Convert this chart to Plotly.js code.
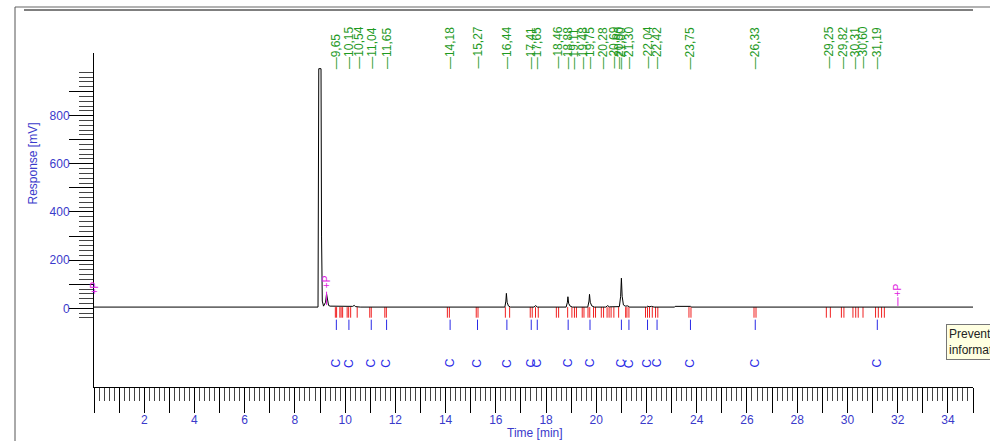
<!DOCTYPE html>
<html><head><meta charset="utf-8">
<script src="https://cdn.plot.ly/plotly-3.0.1.min.js"></script>
<style>html,body{margin:0;padding:0;overflow:hidden;background:#fff}#chart{width:990px;height:441px}</style>
</head><body><div id="chart"></div>
<script>
// ---- data ----
const timeMin = [0, 8.92, 8.95, 9.04, 9.06, 9.09, 9.14, 9.22, 9.26, 9.30, 9.34, 9.40, 10.30, 10.36, 10.42, 10.60,
  16.36, 16.40, 16.42, 16.45, 16.50, 16.58, 17.52, 17.58, 17.66, 18.80, 18.85, 18.87, 18.90, 18.96, 19.05,
  19.66, 19.71, 19.73, 19.76, 19.82, 19.92, 20.38, 20.45, 20.52, 20.92, 20.97, 21.00, 21.03, 21.08, 21.15,
  21.25, 21.33, 22.00, 22.05, 22.10, 22.20, 22.30, 23.12, 23.14, 23.75, 23.80, 35];
const responseMv = [5, 5, 995, 995, 300, 30, 9, 25, 60, 25, 12, 9, 8, 12, 7, 5,
  5, 30, 62, 25, 10, 5, 5, 11, 5, 5, 25, 48, 20, 9, 5,
  5, 30, 58, 25, 10, 5, 5, 11, 6, 7, 50, 125, 50, 14, 9,
  10, 5, 5, 9, 6, 8, 5, 5, 8, 8, 5, 5];
const peakTimes = [9.65, 10.15, 10.54, 11.04, 11.65, 14.18, 15.27, 16.44, 17.41, 17.65, 18.46, 18.88, 19.11,
  19.48, 19.75, 20.28, 20.69, 20.90, 21.00, 21.30, 22.04, 22.42, 23.75, 26.33, 29.25, 29.82, 30.31, 30.60, 31.19];
const identifiedTimes = [9.65, 10.15, 11.04, 11.65, 14.18, 15.27, 16.44, 17.41, 17.65, 18.88, 19.75, 21.00,
  21.30, 22.04, 22.42, 23.75, 26.33, 31.19];
const boundaryTimes = [9.61, 9.66, 9.79, 9.84, 9.90, 10.08, 10.14, 10.22, 10.48, 10.98, 11.04, 11.58, 11.64,
  14.07, 14.15, 15.22, 15.29, 16.38, 16.55, 17.37, 17.45, 17.58, 17.69, 18.41, 18.50, 18.86, 19.03, 19.13,
  19.21, 19.44, 19.51, 19.67, 19.74, 19.89, 19.97, 20.20, 20.29, 20.43, 20.51, 20.59, 20.70, 20.89, 21.17,
  21.22, 21.30, 21.96, 22.04, 22.12, 22.23, 22.36, 22.45, 23.69, 23.77, 26.28, 26.36, 29.16, 29.32, 29.76,
  29.86, 30.22, 30.33, 30.43, 30.62, 31.12, 31.23, 31.36, 31.47];
const eventTimes = [0.0, 9.26, 32.01];
const eventTextMv = [83, 111, 78];
const eventLineTop = [null, 69, 46];
const eventLineBottom = [null, 14, 10];
const identMark = 'C';
const eventMark = '+P';
const xTickLabels = ['', '', '2', '', '4', '', '6', '', '8', '', '10', '', '12', '', '14', '', '16', '', '18', '',
  '20', '', '22', '', '24', '', '26', '', '28', '', '30', '', '32', '', '34', ''];
const yTickLabels = ['0', '', '200', '', '400', '', '600', '', '800', ''];

// ---- geometry helpers ----
const W = 990, H = 441, M = {l: 94, r: 17, t: 53, b: 54};
const PW = W - M.l - M.r, PH = H - M.t - M.b;
const px = v => (v - M.l) / PW;
const py = v => (H - M.b - v) / PH;

const FONT = 'Arial, "Liberation Sans", sans-serif';
const BLUE = '#3a3acb', GREEN = '#1f9a1f', RED = '#f02020', MAG = '#e020e0', IDBLUE = '#2a2ae6';

function segs(times, y0, y1) {
  const x = [], y = [];
  times.forEach(t => { x.push(t, t, null); y.push(y0, y1, null); });
  return {x, y};
}
const red = segs(boundaryTimes, 5, -39);
const blue = segs(identifiedTimes, -47, -90);
const magX = [], magY = [];
eventTimes.forEach((t, i) => { if (eventLineTop[i] !== null) { magX.push(t, t, null); magY.push(eventLineTop[i], eventLineBottom[i], null); } });

const traces = [
  {x: red.x, y: red.y, mode: 'lines', line: {color: RED, width: 1}, hoverinfo: 'skip'},
  {x: blue.x, y: blue.y, mode: 'lines', line: {color: IDBLUE, width: 1}, hoverinfo: 'skip'},
  {x: timeMin, y: responseMv, mode: 'lines', line: {color: '#000', width: 1}},
  {x: magX, y: magY, mode: 'lines', line: {color: MAG, width: 1}, hoverinfo: 'skip'}
];

const xMajor = [], xMinor = [];
for (let i = 0; i <= 35; i++) xMajor.push(i);
for (let i = 0; i <= 175; i++) if (i % 5) xMinor.push(i / 5);
const yMajor = [], yMinor = [];
for (let v = 0; v <= 900; v += 100) yMajor.push(v);
for (let v = -40; v <= 980; v += 20) if (v % 100) yMinor.push(v);

const annotations = [];
peakTimes.forEach(t => annotations.push({
  x: t, xref: 'x', y: py(70), yref: 'paper', text: '\u2014' + t.toFixed(2).replace('.', ','),
  textangle: -90, showarrow: false, xanchor: 'center', yanchor: 'bottom',
  font: {family: FONT, size: 12, color: GREEN}, borderpad: 0
}));
identifiedTimes.forEach(t => annotations.push({
  x: t, xref: 'x', y: -228, yref: 'y', text: identMark, textangle: -90, showarrow: false,
  xanchor: 'center', yanchor: 'middle',
  font: {family: FONT, size: 12, color: IDBLUE}
}));
eventTimes.forEach((t, i) => annotations.push({
  x: t, xref: 'x', y: eventTextMv[i], yref: 'y', text: eventMark, textangle: -90, showarrow: false,
  xanchor: 'center', yanchor: 'middle',
  font: {family: FONT, size: 10, color: MAG}
}));
annotations.push({x: px(32), y: py(163.5), xref: 'paper', yref: 'paper', text: 'Response [mV]', textangle: -90,
  xanchor: 'center', yanchor: 'middle',
  showarrow: false, font: {family: FONT, size: 12, color: BLUE}});
annotations.push({x: px(535), y: py(433), xref: 'paper', yref: 'paper', text: 'Time [min]',
  xanchor: 'center', yanchor: 'middle',
  showarrow: false, font: {family: FONT, size: 12, color: BLUE}});
annotations.push({x: px(946), y: py(324), xref: 'paper', yref: 'paper', xanchor: 'left', yanchor: 'top',
  text: 'Prevent copying<br>information', align: 'left', showarrow: false, bgcolor: '#ffffe1',
  bordercolor: '#767676', borderwidth: 1, borderpad: 2, font: {family: FONT, size: 12, color: '#222'}});

const shapes = [
  {type: 'line', xref: 'paper', yref: 'paper', x0: px(15), x1: px(995), y0: py(7), y1: py(7), line: {color: '#999', width: 1.5}},
  {type: 'line', xref: 'paper', yref: 'paper', x0: px(24), x1: px(973), y0: py(10), y1: py(10), line: {color: '#000', width: 1}},
  {type: 'line', xref: 'paper', yref: 'paper', x0: px(15), x1: px(15), y0: py(7), y1: py(445), line: {color: '#555', width: 1}},
  {type: 'rect', xref: 'paper', yref: 'paper', x0: px(948), x1: px(995), y0: py(326), y1: py(360), fillcolor: 'rgba(0,0,0,0.15)', line: {width: 0}, layer: 'below'}
];

const layout = {
  width: W, height: H, margin: M, showlegend: false, paper_bgcolor: '#fff', plot_bgcolor: '#fff',
  hovermode: false, annotations, shapes,
  xaxis: {range: [0, 35], showgrid: false, zeroline: false, showline: true, linecolor: '#000', linewidth: 1,
    tickmode: 'array', tickvals: xMajor, ticktext: xTickLabels, ticks: 'outside', ticklen: 25, tickcolor: '#000',
    tickfont: {family: FONT, size: 12, color: BLUE}, ticklabelstandoff: -3,
    minor: {tickmode: 'array', tickvals: xMinor, ticks: 'outside', ticklen: 13, tickcolor: '#444', showgrid: false}},
  yaxis: {range: [-326.8, 1060.1], showgrid: false, zeroline: false, showline: true, linecolor: '#000', linewidth: 1,
    tickmode: 'array', tickvals: yMajor, ticktext: yTickLabels, ticks: 'outside', ticklen: 24, tickcolor: '#000',
    tickfont: {family: FONT, size: 12, color: BLUE}, ticklabelstandoff: -3,
    minor: {tickmode: 'array', tickvals: yMinor, ticks: 'outside', ticklen: 14, tickcolor: '#444', showgrid: false}}
};
Plotly.newPlot('chart', traces, layout, {displayModeBar: false, staticPlot: true});
</script></body></html>
